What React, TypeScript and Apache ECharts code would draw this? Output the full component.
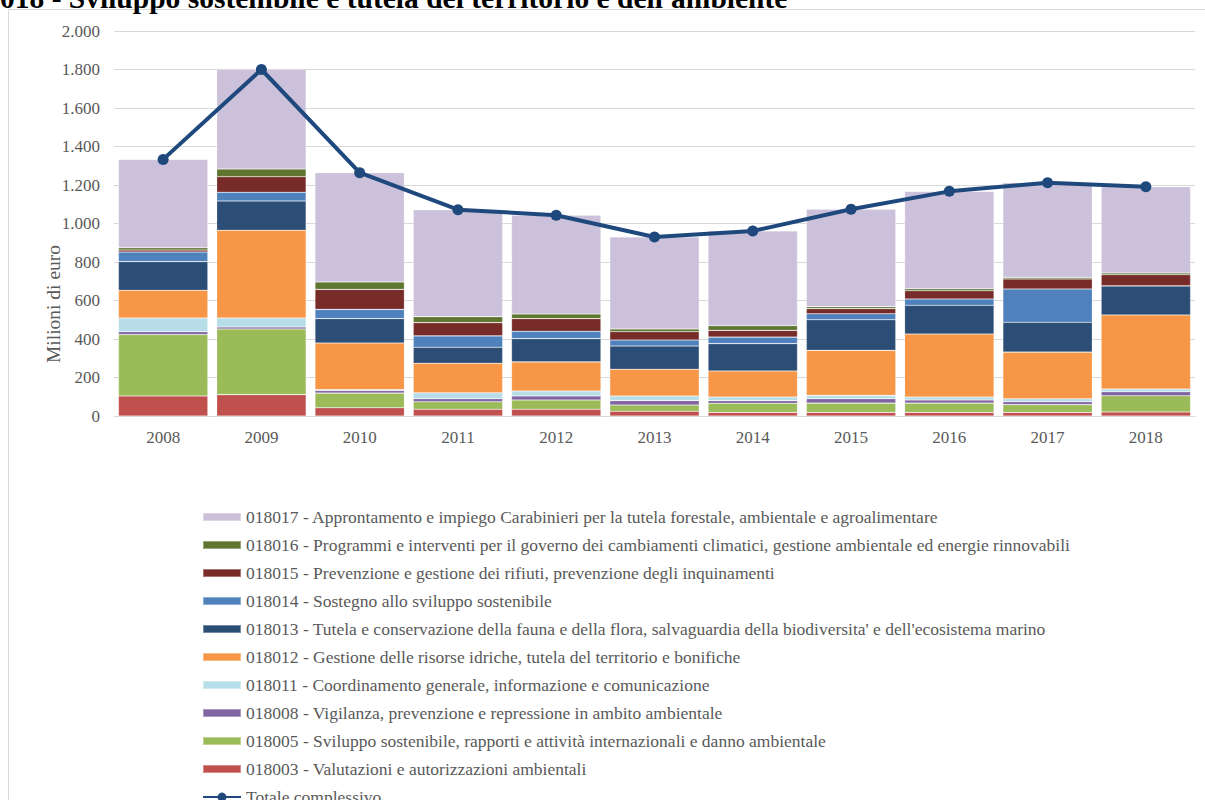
import React, { useEffect, useRef } from "react";
import * as echarts from "echarts";

const years = ["2008", "2009", "2010", "2011", "2012", "2013", "2014", "2015", "2016", "2017", "2018"];

const s018003 = [104, 111, 43, 35, 35, 25, 19, 19, 19, 19, 21];
const s018005 = [319, 341, 76, 39, 48, 32, 47, 48, 48, 40, 84];
const s018008 = [15, 10, 14, 16, 21, 23, 14, 23, 16, 15, 21];
const s018011 = [71, 47, 4, 31, 26, 24, 19, 17, 16, 16, 14];
const s018012 = [144, 456, 242, 153, 151, 139, 135, 234, 327, 242, 385];
const s018013 = [149, 152, 127, 83, 121, 121, 142, 159, 149, 155, 150];
const s018014 = [50, 45, 48, 59, 38, 31, 34, 31, 33, 173, 2];
const s018015 = [10, 81, 104, 69, 66, 43, 35, 27, 43, 52, 57];
const s018016 = [12, 40, 38, 31, 24, 14, 24, 10, 10, 8, 9];
const s018017 = [459, 517, 568, 556, 513, 478, 492, 506, 506, 492, 448];
const totale = [1333, 1800, 1264, 1072, 1043, 930, 961, 1074, 1167, 1212, 1191];

const seriesDefs = [
  { name: "018003 - Valutazioni e autorizzazioni ambientali", data: s018003, color: "#C0504D" },
  { name: "018005 - Sviluppo sostenibile, rapporti e attività internazionali e danno ambientale", data: s018005, color: "#9BBB59" },
  { name: "018008 - Vigilanza, prevenzione e repressione in ambito ambientale", data: s018008, color: "#8064A2" },
  { name: "018011 - Coordinamento generale, informazione e comunicazione", data: s018011, color: "#B7DEE8" },
  { name: "018012 - Gestione delle risorse idriche, tutela del territorio e bonifiche", data: s018012, color: "#F79646" },
  { name: "018013 - Tutela e conservazione della fauna e della flora, salvaguardia della biodiversita' e dell'ecosistema marino", data: s018013, color: "#2C4D75" },
  { name: "018014 - Sostegno allo sviluppo sostenibile", data: s018014, color: "#4F81BD" },
  { name: "018015 - Prevenzione e gestione dei rifiuti, prevenzione degli inquinamenti", data: s018015, color: "#772C2A" },
  { name: "018016 - Programmi e interventi per il governo dei cambiamenti climatici, gestione ambientale ed energie rinnovabili", data: s018016, color: "#5F7530" },
  { name: "018017 - Approntamento e impiego Carabinieri per la tutela forestale, ambientale e agroalimentare", data: s018017, color: "#CCC1DA" },
];
const totaleName = "Totale complessivo";
const title = "018 - Sviluppo sostenibile e tutela del territorio e dell'ambiente";
const yAxisTitle = "Milioni di euro";

const FONT = "'Liberation Serif', 'Times New Roman', serif";

export default function App() {
  const ref = useRef<HTMLDivElement>(null);
  useEffect(() => {
    if (!ref.current) return;
    const chart = echarts.init(ref.current, null, { renderer: "svg" });
    const fmt = (v: number) => String(v).replace(/\B(?=(\d{3})+(?!\d))/g, ".");
    const series: any[] = seriesDefs.map((d) => ({
      type: "bar",
      name: d.name,
      stack: "tot",
      data: d.data,
      barCategoryGap: "9%",
      itemStyle: { color: d.color, borderColor: "rgba(255,255,255,0.35)", borderWidth: 0.6 },
    }));
    series.push({
      type: "line",
      name: totaleName,
      data: totale,
      symbol: "circle",
      symbolSize: 11,
      z: 10,
      lineStyle: { color: "#1F497D", width: 4 },
      itemStyle: { color: "#1F497D" },
    });
    const legendText = { color: "#595959", fontSize: 17.5, fontFamily: FONT, lineHeight: 20 };
    chart.setOption({
      animation: false,
      backgroundColor: "#ffffff",
      textStyle: { fontFamily: FONT },
      grid: { left: 114, right: 10, top: 31, bottom: 384, containLabel: false },
      xAxis: {
        type: "category",
        data: years,
        axisTick: { show: false },
        axisLine: { lineStyle: { color: "#D9D9D9" } },
        axisLabel: { color: "#595959", fontSize: 17, fontFamily: FONT, margin: 13 },
      },
      yAxis: {
        type: "value",
        min: 0,
        max: 2000,
        interval: 200,
        axisLine: { show: false },
        axisTick: { show: false },
        axisLabel: { color: "#595959", fontSize: 17, fontFamily: FONT, margin: 14, formatter: fmt },
        splitLine: { lineStyle: { color: "#D9D9D9", width: 1 } },
      },
      legend: [
        {
          orient: "vertical",
          left: 197,
          top: 502,
          itemWidth: 38,
          itemHeight: 8,
          itemGap: 8,
          selectedMode: false,
          data: [...seriesDefs].reverse().map((d) => ({ name: d.name, icon: "rect" })),
          textStyle: legendText,
        },
        {
          orient: "vertical",
          left: 197,
          top: 782,
          itemWidth: 38,
          itemHeight: 11,
          selectedMode: false,
          data: [{ name: totaleName }],
          textStyle: legendText,
        },
      ],
      graphic: [
        {
          type: "rect",
          shape: { x: 8.5, y: 9.5, width: 1200, height: 800 },
          style: { fill: "none", stroke: "#D9D9D9", lineWidth: 1 },
          silent: true,
        },
        {
          type: "text",
          x: 0,
          y: -2,
          style: {
            text: title,
            font: "bold 29.5px " + FONT,
            fill: "#000000",
            verticalAlign: "middle",
          },
        },
        {
          type: "text",
          x: 53,
          y: 304,
          rotation: Math.PI / 2,
          style: {
            text: yAxisTitle,
            font: "19.5px " + FONT,
            fill: "#595959",
            align: "center",
            verticalAlign: "middle",
          },
        },
      ],
      series,
    });
    return () => chart.dispose();
  }, []);
  return <div ref={ref} style={{ position: "fixed", left: 0, top: 0, width: 1205, height: 800 }} />;
}
